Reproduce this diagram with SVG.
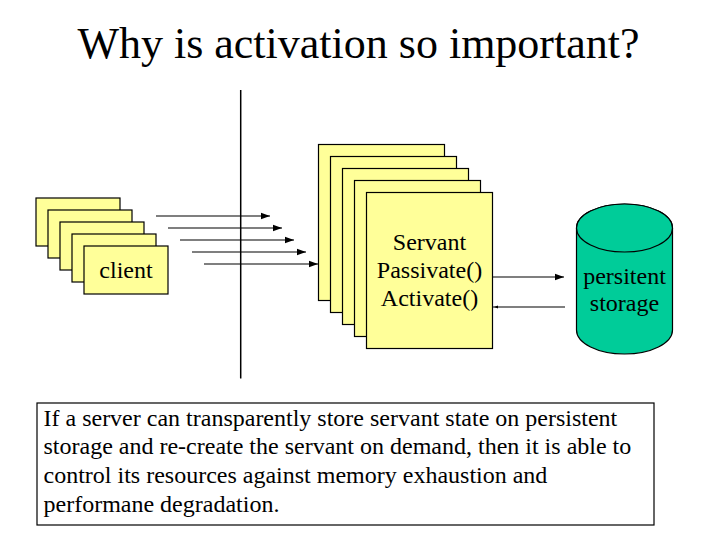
<svg xmlns="http://www.w3.org/2000/svg" width="720" height="540" viewBox="0 0 720 540">
<defs>
<style>
text{font-family:'Liberation Serif','Times New Roman',Tinos,'DejaVu Serif',serif;fill:#000}
.card{fill:#FFFF99;stroke:#000;stroke-width:1.2}
.ln{stroke:#000;stroke-width:1.2;fill:none}
.db{fill:#00CC99;stroke:#000;stroke-width:1.2}
</style>
<marker id="ah" markerUnits="userSpaceOnUse" markerWidth="10" markerHeight="8" refX="9" refY="4" orient="auto">
<path d="M0,0.8 L9,4 L0,7.2 Z" fill="#000"/>
</marker>
<marker id="ahs" markerUnits="userSpaceOnUse" markerWidth="6" markerHeight="6" refX="5" refY="3" orient="auto">
<path d="M0,1.5 L4,3 L0,4.5 Z" fill="#000"/>
</marker>
</defs>
<rect width="720" height="540" fill="#fff"/>
<text font-family="Liberation Serif, serif" x="358.5" y="58" font-size="44" text-anchor="middle">Why is activation so important?</text>
<line x1="240.7" y1="90" x2="240.7" y2="378.5" stroke="#000" stroke-width="1.5"/>
<g id="clients">
<rect class="card" x="36" y="198" width="84" height="48"/>
<rect class="card" x="48" y="210" width="84" height="48"/>
<rect class="card" x="60" y="222" width="84" height="48"/>
<rect class="card" x="72" y="234" width="84" height="48"/>
<rect class="card" x="84" y="246" width="84" height="48"/>
<text font-family="Liberation Serif, serif" x="126" y="277.5" font-size="24" text-anchor="middle">client</text>
</g>
<g id="connectors">
<line class="ln" x1="156" y1="216" x2="270" y2="216" marker-end="url(#ah)"/>
<line class="ln" x1="168" y1="228" x2="282" y2="228" marker-end="url(#ah)"/>
<line class="ln" x1="180" y1="240" x2="294" y2="240" marker-end="url(#ah)"/>
<line class="ln" x1="192" y1="252" x2="306" y2="252" marker-end="url(#ah)"/>
<line class="ln" x1="204" y1="264" x2="318" y2="264" marker-end="url(#ah)"/>
<line class="ln" x1="493" y1="277" x2="564" y2="277" marker-end="url(#ah)"/>
<line class="ln" x1="565" y1="307" x2="493" y2="307" marker-end="url(#ahs)"/>
</g>
<g id="servants">
<rect class="card" x="318.5" y="144.5" width="126" height="156"/>
<rect class="card" x="330.5" y="156.5" width="126" height="156"/>
<rect class="card" x="342.5" y="168.5" width="126" height="156"/>
<rect class="card" x="354.5" y="180.5" width="126" height="156"/>
<rect class="card" x="366.5" y="192.5" width="126" height="156"/>
<text font-family="Liberation Serif, serif" font-size="24" text-anchor="middle"><tspan x="429.5" y="250">Servant</tspan><tspan x="429.5" y="278">Passivate()</tspan><tspan x="429.5" y="306">Activate()</tspan></text>
</g>
<g id="storage">
<path class="db" d="M576.5,228 L576.5,330 A48,24 0 0 0 672.5,330 L672.5,228 A48,24 0 0 0 576.5,228 Z"/>
<ellipse class="db" cx="624.5" cy="228" rx="48" ry="24"/>
<text font-family="Liberation Serif, serif" font-size="24" text-anchor="middle"><tspan x="624.5" y="284">persitent</tspan><tspan x="624.5" y="311">storage</tspan></text>
</g>
<g id="note">
<rect x="37" y="403" width="617" height="122" fill="#fff" stroke="#000" stroke-width="1.2"/>
<text font-family="Liberation Serif, serif" font-size="24"><tspan x="43.5" y="425.5">If a server can transparently store servant state on persistent</tspan><tspan x="43.5" y="454.3">storage and re-create the servant on demand, then it is able to</tspan><tspan x="43.5" y="483.1">control its resources against memory exhaustion and</tspan><tspan x="43.5" y="511.9">performane degradation.</tspan></text>
</g>
</svg>
